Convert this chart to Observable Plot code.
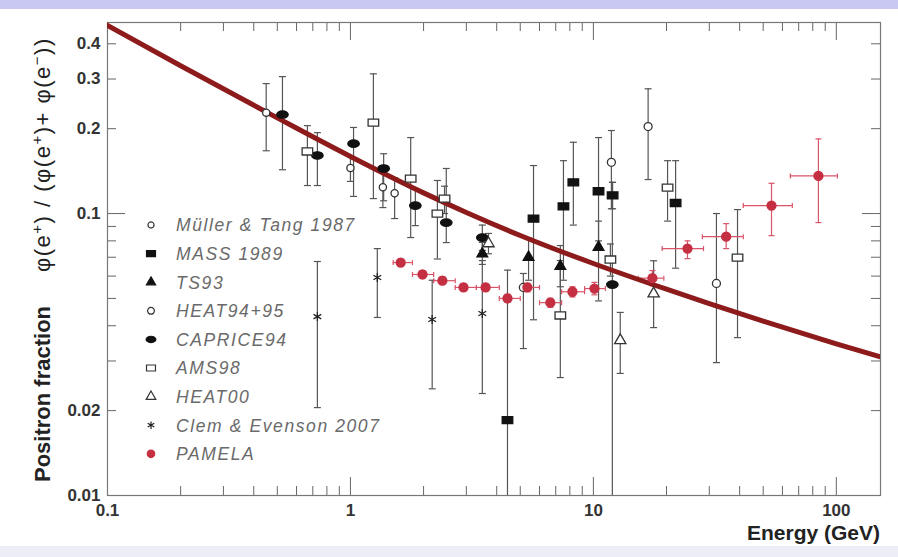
<!DOCTYPE html>
<html>
<head>
<meta charset="utf-8">
<script src="https://cdn.jsdelivr.net/npm/d3@7"></script>
<script src="https://cdn.jsdelivr.net/npm/@observablehq/plot@0.6"></script>
<style>
  html, body { margin: 0; padding: 0; background: #fff; }
  #fig { position: relative; width: 898px; height: 557px; overflow: hidden; background: #fff; }
  #chart { position: absolute; left: 0; top: 0; }
  #topband { position: absolute; left: 0; top: 0; width: 898px; height: 9px; background: #c8c8f2; }
  #bottomband { position: absolute; left: 0; bottom: 0; width: 898px; height: 11px; background: #ededf5; }
</style>
</head>
<body>
<div id="fig">
  <div id="chart"></div>
  <div id="topband"></div>
  <div id="bottomband"></div>
</div>
<script>
// Positron fraction measurements: [energy GeV, fraction, lower, upper]
const mullerTang1987 = [
  [0.45, 0.228, 0.167, 0.289],
  [1.0, 0.145, 0.13, 0.16],
  [1.36, 0.124, 0.105, 0.142],
  [1.52, 0.118, 0.096, 0.134]
];
const mass1989 = [
  [4.43, 0.0185, 0.009, 0.063],
  [5.67, 0.096, 0.042, 0.148],
  [7.53, 0.106, 0.058, 0.154],
  [8.27, 0.129, 0.091, 0.179],
  [10.5, 0.120, 0.080, 0.186],
  [12.0, 0.116, 0.104, 0.129],
  [21.8, 0.109, 0.064, 0.154]
];
const ts93 = [
  [3.49, 0.072, 0.066, 0.079],
  [5.41, 0.070, 0.058, 0.082],
  [7.31, 0.065, 0.055, 0.077],
  [10.5, 0.076, 0.049, 0.094]
];
const heat9495 = [
  [5.15, 0.0547, 0.0332, 0.0613],
  [11.86, 0.152, 0.104, 0.197],
  [16.8, 0.2035, 0.132, 0.277],
  [32.1, 0.0565, 0.0296, 0.100]
];
const caprice94 = [
  [0.525, 0.2245, 0.143, 0.306],
  [0.731, 0.1607, 0.1257, 0.1936],
  [1.03, 0.177, 0.115, 0.202],
  [1.37, 0.1445, 0.111, 0.163],
  [1.85, 0.1067, 0.0906, 0.1227],
  [2.48, 0.0929, 0.0789, 0.1445],
  [3.49, 0.0822, 0.074, 0.091],
  [11.97, 0.056, 0.009, 0.129]
];
const ams98 = [
  [0.665, 0.166, 0.1257, 0.205],
  [1.243, 0.210, 0.113, 0.313],
  [1.77, 0.133, 0.0822, 0.186],
  [2.28, 0.100, 0.069, 0.131],
  [2.44, 0.113, 0.100, 0.125],
  [7.31, 0.0435, 0.0262, 0.0681],
  [11.75, 0.0687, 0.060, 0.078],
  [20.2, 0.1236, 0.094, 0.154],
  [39.2, 0.0698, 0.0363, 0.1033]
];
const heat00 = [
  [3.70, 0.0783, 0.072, 0.085],
  [12.9, 0.0355, 0.0271, 0.0446],
  [17.7, 0.052, 0.0394, 0.068]
];
const clemEvenson2007 = [
  [0.731, 0.0431, 0.0205, 0.0676],
  [1.29, 0.0593, 0.0428, 0.0751],
  [2.17, 0.0421, 0.0239, 0.058],
  [3.49, 0.0442, 0.0230, 0.0681]
];
// PAMELA: [energy, fraction, energy low, energy high, fraction low, fraction high]
const pamela = [
  [1.61, 0.067, 1.5, 1.8, 0.065, 0.069],
  [1.98, 0.0608, 1.8, 2.2, 0.059, 0.0626],
  [2.39, 0.0578, 2.2, 2.7, 0.056, 0.0596],
  [2.92, 0.0547, 2.7, 3.3, 0.053, 0.0565],
  [3.6, 0.0547, 3.3, 4.1, 0.053, 0.0565],
  [4.43, 0.050, 4.1, 5.0, 0.0484, 0.0517],
  [5.35, 0.0547, 5.0, 6.0, 0.0528, 0.0566],
  [6.65, 0.0483, 6.0, 7.4, 0.0465, 0.0501],
  [8.2, 0.0528, 7.4, 9.2, 0.0506, 0.055],
  [10.1, 0.0542, 9.2, 11.2, 0.0515, 0.057],
  [17.5, 0.059, 15.3, 19.5, 0.0555, 0.0628],
  [24.4, 0.0751, 19.2, 28.4, 0.0692, 0.080],
  [35.2, 0.0828, 28.1, 41.4, 0.0751, 0.0921],
  [54.1, 0.1067, 41.4, 65.9, 0.0835, 0.128],
  [84.4, 0.136, 64.7, 101, 0.0929, 0.184]
];

// Secondary-production model curve
const curveEnergy = [0.1, 0.2, 0.5, 1, 2, 3, 5, 10, 20, 30, 50, 100, 152];
const curveFraction = [0.465, 0.3345, 0.2184, 0.1594, 0.1184, 0.1009, 0.0836, 0.0665, 0.0539, 0.0479, 0.0415, 0.0345, 0.031];

// Axis ticks
const xTickLabels = [0.1, 1, 10, 100];
const xMajorTicks = [0.1, 1, 10, 100];
const xMinorTicks = [0.2, 0.3, 0.4, 0.5, 0.6, 0.7, 0.8, 0.9, 2, 3, 4, 5, 6, 7, 8, 9, 20, 30, 40, 50, 60, 70, 80, 90];
const yTickLabels = [0.01, 0.02, 0.1, 0.2, 0.3, 0.4];
const yMajorTicks = [0.01, 0.1];
const yMinorTicks = [0.02, 0.03, 0.04, 0.05, 0.06, 0.07, 0.08, 0.09, 0.2, 0.3, 0.4];

// Marker shapes
const K = 0.5523;
const wideRect = {draw(ctx, size) {
  const r = Math.sqrt(size / Math.PI), w = r * 1.2, h = r * 0.8;
  ctx.moveTo(-w, -h); ctx.lineTo(w, -h); ctx.lineTo(w, h); ctx.lineTo(-w, h); ctx.closePath();
}};
const wideEllipse = {draw(ctx, size) {
  const r = Math.sqrt(size / Math.PI), w = r * 1.25, h = r * 0.8;
  ctx.moveTo(w, 0);
  ctx.bezierCurveTo(w, h * K, w * K, h, 0, h);
  ctx.bezierCurveTo(-w * K, h, -w, h * K, -w, 0);
  ctx.bezierCurveTo(-w, -h * K, -w * K, -h, 0, -h);
  ctx.bezierCurveTo(w * K, -h, w, -h * K, w, 0);
  ctx.closePath();
}};
const hCap = {draw(ctx, size) { const r = Math.sqrt(size / Math.PI); ctx.moveTo(-r, 0); ctx.lineTo(r, 0); }};
const vCap = {draw(ctx, size) { const r = Math.sqrt(size / Math.PI); ctx.moveTo(0, -r); ctx.lineTo(0, r); }};

const series = [
  {label: "Müller & Tang 1987", rows: mullerTang1987, symbol: d3.symbolCircle, r: 3.6, fill: "#fff", stroke: "#333"},
  {label: "MASS 1989", rows: mass1989, symbol: wideRect, r: 4.4, fill: "#111", stroke: "#111"},
  {label: "TS93", rows: ts93, symbol: d3.symbolTriangle, r: 4, fill: "#111", stroke: "#111"},
  {label: "HEAT94+95", rows: heat9495, symbol: d3.symbolCircle, r: 4, fill: "#fff", stroke: "#333"},
  {label: "CAPRICE94", rows: caprice94, symbol: wideEllipse, r: 4.6, fill: "#111", stroke: "#111"},
  {label: "AMS98", rows: ams98, symbol: wideRect, r: 4.4, fill: "#fff", stroke: "#333"},
  {label: "HEAT00", rows: heat00, symbol: d3.symbolTriangle, r: 4.2, fill: "#fff", stroke: "#333"},
  {label: "Clem & Evenson 2007", rows: clemEvenson2007, symbol: d3.symbolAsterisk, r: 4.2, fill: "none", stroke: "#222"}
];
const pamelaStyle = {label: "PAMELA", symbol: d3.symbolCircle, r: 4.4, fill: "#c42f42", stroke: "#c42f42", bar: "#d95468"};

const curve = curveEnergy.map((e, i) => ({e, f: curveFraction[i]}));

const W = 898, H = 557;
const mL = 107, mR = 18, mT = 22, mB = 62;
const innerW = W - mL - mR, innerH = H - mT - mB;
const tickColor = "#666", barColor = "#555";
const font = "'Liberation Sans', Arial, sans-serif";

function errorBars(rows) {
  return [
    Plot.ruleX(rows, {x: d => d[0], y1: d => d[2], y2: d => d[3], stroke: barColor, strokeWidth: 1.2, clip: true}),
    Plot.dot(rows, {x: d => d[0], y: d => d[2], symbol: hCap, r: 3.5, stroke: barColor, strokeWidth: 1.2, clip: true}),
    Plot.dot(rows, {x: d => d[0], y: d => d[3], symbol: hCap, r: 3.5, stroke: barColor, strokeWidth: 1.2, clip: true})
  ];
}

const plot = Plot.plot({
  width: W,
  height: H,
  marginLeft: mL, marginRight: mR, marginTop: mT, marginBottom: mB,
  style: {background: "transparent", fontFamily: font},
  x: {type: "log", domain: [0.1, 152]},
  y: {type: "log", domain: [0.01, 0.476]},
  marks: [
    // inward ticks on all four sides
    Plot.ruleX(xMajorTicks, {stroke: tickColor, insetTop: innerH - 18}),
    Plot.ruleX(xMinorTicks, {stroke: tickColor, insetTop: innerH - 9}),
    Plot.ruleX(xMajorTicks, {stroke: tickColor, insetBottom: innerH - 18}),
    Plot.ruleX(xMinorTicks, {stroke: tickColor, insetBottom: innerH - 9}),
    Plot.ruleY(yMajorTicks, {stroke: tickColor, insetRight: innerW - 18}),
    Plot.ruleY(yMinorTicks, {stroke: tickColor, insetRight: innerW - 9}),
    Plot.ruleY(yMajorTicks, {stroke: tickColor, insetLeft: innerW - 18}),
    Plot.ruleY(yMinorTicks, {stroke: tickColor, insetLeft: innerW - 9}),
    Plot.frame({stroke: "#777", strokeWidth: 1.2}),
    Plot.axisX({ticks: xTickLabels, tickSize: 0, tickPadding: 8, tickFormat: d => String(d), label: null,
      fontSize: 17, fontWeight: "bold", color: "#333"}),
    Plot.axisY({ticks: yTickLabels, tickSize: 0, tickPadding: 7, tickFormat: d => String(d), label: null,
      fontSize: 17, fontWeight: "bold", color: "#333"}),
    // error bars of the earlier experiments
    ...series.flatMap(s => errorBars(s.rows)),
    // PAMELA error bars
    Plot.ruleY(pamela, {y: d => d[1], x1: d => d[2], x2: d => d[3], stroke: pamelaStyle.bar, strokeWidth: 1.2}),
    Plot.dot(pamela, {x: d => d[2], y: d => d[1], symbol: vCap, r: 2.5, stroke: pamelaStyle.bar, strokeWidth: 1.2}),
    Plot.dot(pamela, {x: d => d[3], y: d => d[1], symbol: vCap, r: 2.5, stroke: pamelaStyle.bar, strokeWidth: 1.2}),
    Plot.ruleX(pamela, {x: d => d[0], y1: d => d[4], y2: d => d[5], stroke: pamelaStyle.bar, strokeWidth: 1.2}),
    Plot.dot(pamela, {x: d => d[0], y: d => d[4], symbol: hCap, r: 3, stroke: pamelaStyle.bar, strokeWidth: 1.2}),
    Plot.dot(pamela, {x: d => d[0], y: d => d[5], symbol: hCap, r: 3, stroke: pamelaStyle.bar, strokeWidth: 1.2}),
    // model curve
    Plot.line(curve, {x: "e", y: "f", stroke: "#8e1b1b", strokeWidth: 5, curve: "monotone-x", clip: true}),
    // markers
    ...series.map(s => Plot.dot(s.rows, {x: d => d[0], y: d => d[1], symbol: s.symbol, r: s.r,
      fill: s.fill, stroke: s.stroke, strokeWidth: 1.3})),
    Plot.dot(pamela, {x: d => d[0], y: d => d[1], symbol: pamelaStyle.symbol, r: pamelaStyle.r,
      fill: pamelaStyle.fill, stroke: pamelaStyle.stroke})
  ]
});

document.getElementById("chart").appendChild(plot);
const svg = d3.select(plot);

// legend inside the frame
const legend = svg.append("g").attr("font-family", font).attr("text-anchor", "start");
const legendItems = [...series, pamelaStyle];
legendItems.forEach((s, i) => {
  const y = 225 + i * 28.6;
  legend.append("path")
    .attr("transform", `translate(151,${y})`)
    .attr("d", d3.symbol(s.symbol, Math.PI * (s.r * 0.85) ** 2)())
    .attr("fill", s.fill).attr("stroke", s.stroke).attr("stroke-width", 1.2);
  legend.append("text")
    .attr("x", 176).attr("y", y).attr("dy", "0.36em")
    .attr("text-anchor", "start")
    .attr("font-size", 17.5).attr("letter-spacing", 1.6).attr("font-style", "italic")
    .attr("fill", "#6a6a6a")
    .text(s.label);
});

// axis titles
svg.append("text")
  .attr("x", 880).attr("y", 540)
  .attr("text-anchor", "end")
  .attr("font-family", font)
  .attr("font-size", 21).attr("font-weight", "bold").attr("fill", "#222")
  .text("Energy (GeV)");

svg.append("text")
  .attr("transform", "translate(50,482) rotate(-90)")
  .attr("text-anchor", "start")
  .attr("font-family", font)
  .attr("font-size", 22).attr("font-weight", "bold").attr("fill", "#222")
  .text("Positron fraction");

const phiLabel = svg.append("text")
  .attr("transform", "translate(50,272) rotate(-90)")
  .attr("text-anchor", "start")
  .attr("font-family", font)
  .attr("font-size", 22).attr("letter-spacing", 1.5).attr("fill", "#222");
[["φ(e", "+", ") / (φ(e"], ["", "+", ")+ φ(e"], ["", "−", "))"]].forEach(([before, sup, after]) => {
  if (before) phiLabel.append("tspan").text(before);
  phiLabel.append("tspan").attr("dy", -8).attr("font-size", 15).text(sup);
  phiLabel.append("tspan").attr("dy", 8).text(after);
});
</script>
</body>
</html>
